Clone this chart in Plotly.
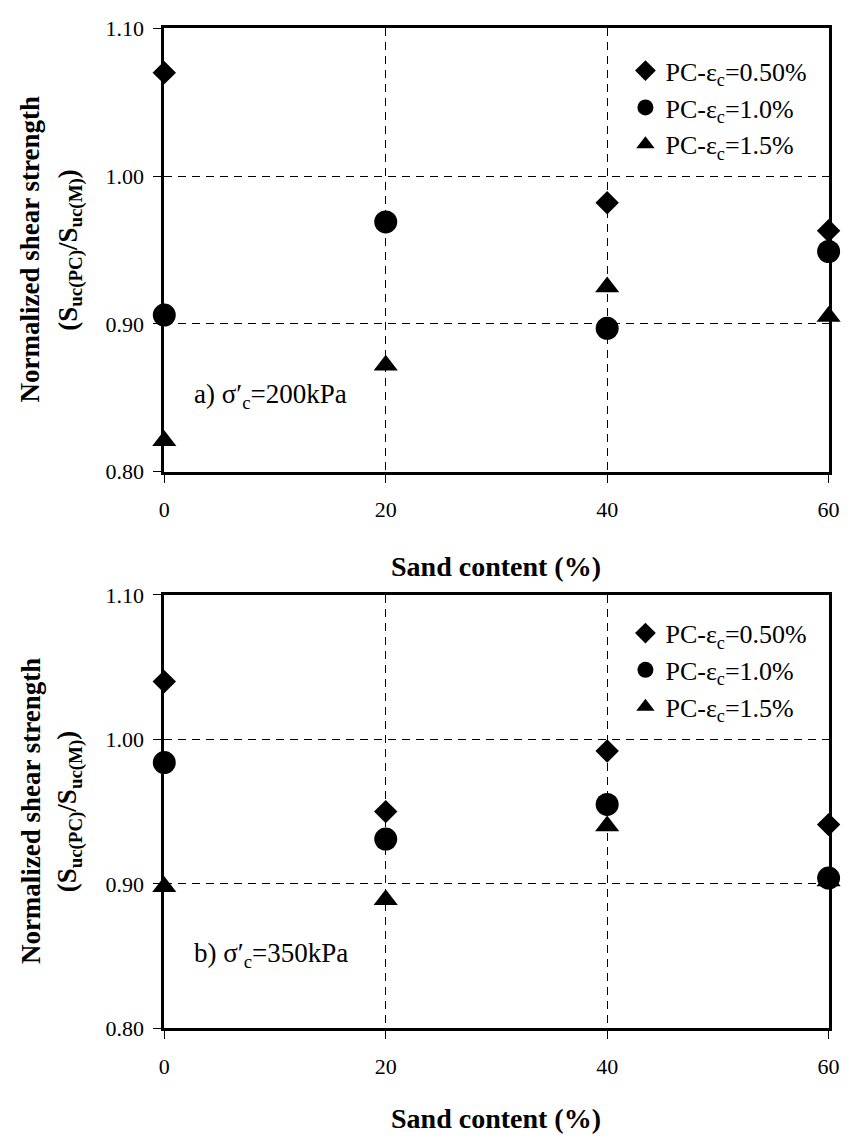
import plotly.graph_objects as go

# ---- data ----
sand = [0, 20, 40, 60]
a_050 = [1.070, None, 0.982, 0.963]
a_100 = [0.906, 0.969, 0.897, 0.949]
a_150 = [0.821, 0.872, 0.925, 0.905]
b_050 = [1.040, 0.950, 0.992, 0.941]
b_100 = [0.984, 0.931, 0.955, 0.904]
b_150 = [0.898, 0.889, 0.940, 0.902]
series_names = ["PC-ε<sub>c</sub>=0.50%", "PC-ε<sub>c</sub>=1.0%", "PC-ε<sub>c</sub>=1.5%"]
x_ticks = [0, 20, 40, 60]
y_ticks = [0.80, 0.90, 1.00, 1.10]

W, H = 855, 1143
FONT = "Liberation Serif"

# plot-area geometry in pixels
X0, X1 = 161.5, 839.3
TOP_Y0, TOP_Y1 = 16.7, 470.0
BOT_Y0, BOT_Y1 = 596.0, 1039.0

def px_x(p):
    return p / W

def px_y(p):
    return 1 - p / H

symbols = ["diamond", "circle", "triangle-up"]
sizes = [18, 23, 21]

fig = go.Figure()

for i, vals in enumerate([a_050, a_100, a_150]):
    fig.add_trace(go.Scatter(
        x=sand, y=vals, mode="markers", name=series_names[i],
        marker=dict(symbol=symbols[i], size=sizes[i], color="black"),
        xaxis="x", yaxis="y", legend="legend", legendgroup=f"a{i}",
        cliponaxis=False, hoverinfo="skip",
    ))
for i, vals in enumerate([b_050, b_100, b_150]):
    fig.add_trace(go.Scatter(
        x=sand, y=vals, mode="markers", name=series_names[i],
        marker=dict(symbol=symbols[i], size=sizes[i], color="black"),
        xaxis="x2", yaxis="y2", legend="legend2", legendgroup=f"b{i}",
        cliponaxis=False, hoverinfo="skip",
    ))

axis_common = dict(
    showline=True, mirror=True, linewidth=3, linecolor="black",
    ticks="outside", ticklen=8, tickwidth=1, tickcolor="black",
    showgrid=True, gridcolor="black", gridwidth=1, griddash="8px,6px",
    zeroline=False, tickfont=dict(family=FONT, size=22, color="black"),
)

LEG_FONT = dict(family=FONT, size=26, color="black")
xdom = [px_x(X0), px_x(X1)]
fig.update_layout(
    width=W, height=H,
    margin=dict(l=0, r=0, t=0, b=0),
    paper_bgcolor="white", plot_bgcolor="white",
    showlegend=True,
    xaxis=dict(domain=xdom, range=[0, 60], tickvals=x_ticks, anchor="y",
               ticklabelstandoff=8, **axis_common),
    yaxis=dict(domain=[px_y(TOP_Y1), px_y(TOP_Y0)], range=[0.80, 1.10], tickvals=y_ticks,
               tickformat=".2f", anchor="x", ticklabelstandoff=5, **axis_common),
    xaxis2=dict(domain=xdom, range=[0, 60], tickvals=x_ticks, anchor="y2",
                ticklabelstandoff=8, **axis_common),
    yaxis2=dict(domain=[px_y(BOT_Y1), px_y(BOT_Y0)], range=[0.80, 1.10], tickvals=y_ticks,
                tickformat=".2f", anchor="x2", ticklabelstandoff=5, **axis_common),
    legend=dict(x=px_x(632), y=px_y(36), xanchor="left", yanchor="top",
                font=LEG_FONT, bgcolor="rgba(0,0,0,0)", tracegroupgap=0),
    legend2=dict(x=px_x(632), y=px_y(611), xanchor="left", yanchor="top",
                 font=LEG_FONT, bgcolor="rgba(0,0,0,0)", tracegroupgap=0),
)

title_font = dict(family=FONT, size=27, color="black")
xtitle_font = dict(family=FONT, size=28, color="black")
ann = []
for yc, xt_y in [((TOP_Y0 + TOP_Y1) / 2, 567), ((BOT_Y0 + BOT_Y1) / 2, 1131)]:
    ann.append(dict(text="<b>Normalized shear strength</b>", xref="paper", yref="paper",
                    x=px_x(25), y=px_y(yc), textangle=-90, showarrow=False,
                    xanchor="center", yanchor="middle", font=title_font))
    ann.append(dict(text="<b>(S<sub>uc(PC)</sub>/S<sub>uc(M)</sub>)</b>", xref="paper", yref="paper",
                    x=px_x(65), y=px_y(yc), textangle=-90, showarrow=False,
                    xanchor="center", yanchor="middle", font=title_font))
    ann.append(dict(text="<b>Sand content (%)</b>", xref="paper", yref="paper",
                    x=px_x((X0 + X1) / 2), y=px_y(xt_y), showarrow=False,
                    xanchor="center", yanchor="middle", font=xtitle_font))

ANN_FONT = dict(family=FONT, size=27, color="black")
ann.append(dict(text="a) σ′<sub>c</sub>=200kPa", xref="x", yref="y", x=2.5, y=0.851,
                showarrow=False, xanchor="left", yanchor="middle", font=ANN_FONT))
ann.append(dict(text="b) σ′<sub>c</sub>=350kPa", xref="x2", yref="y2", x=2.5, y=0.851,
                showarrow=False, xanchor="left", yanchor="middle", font=ANN_FONT))
fig.update_layout(annotations=ann)

fig.write_html("out.html", config={"displayModeBar": False},
               post_script="document.body.style.margin='0';document.body.style.overflow='hidden';")
